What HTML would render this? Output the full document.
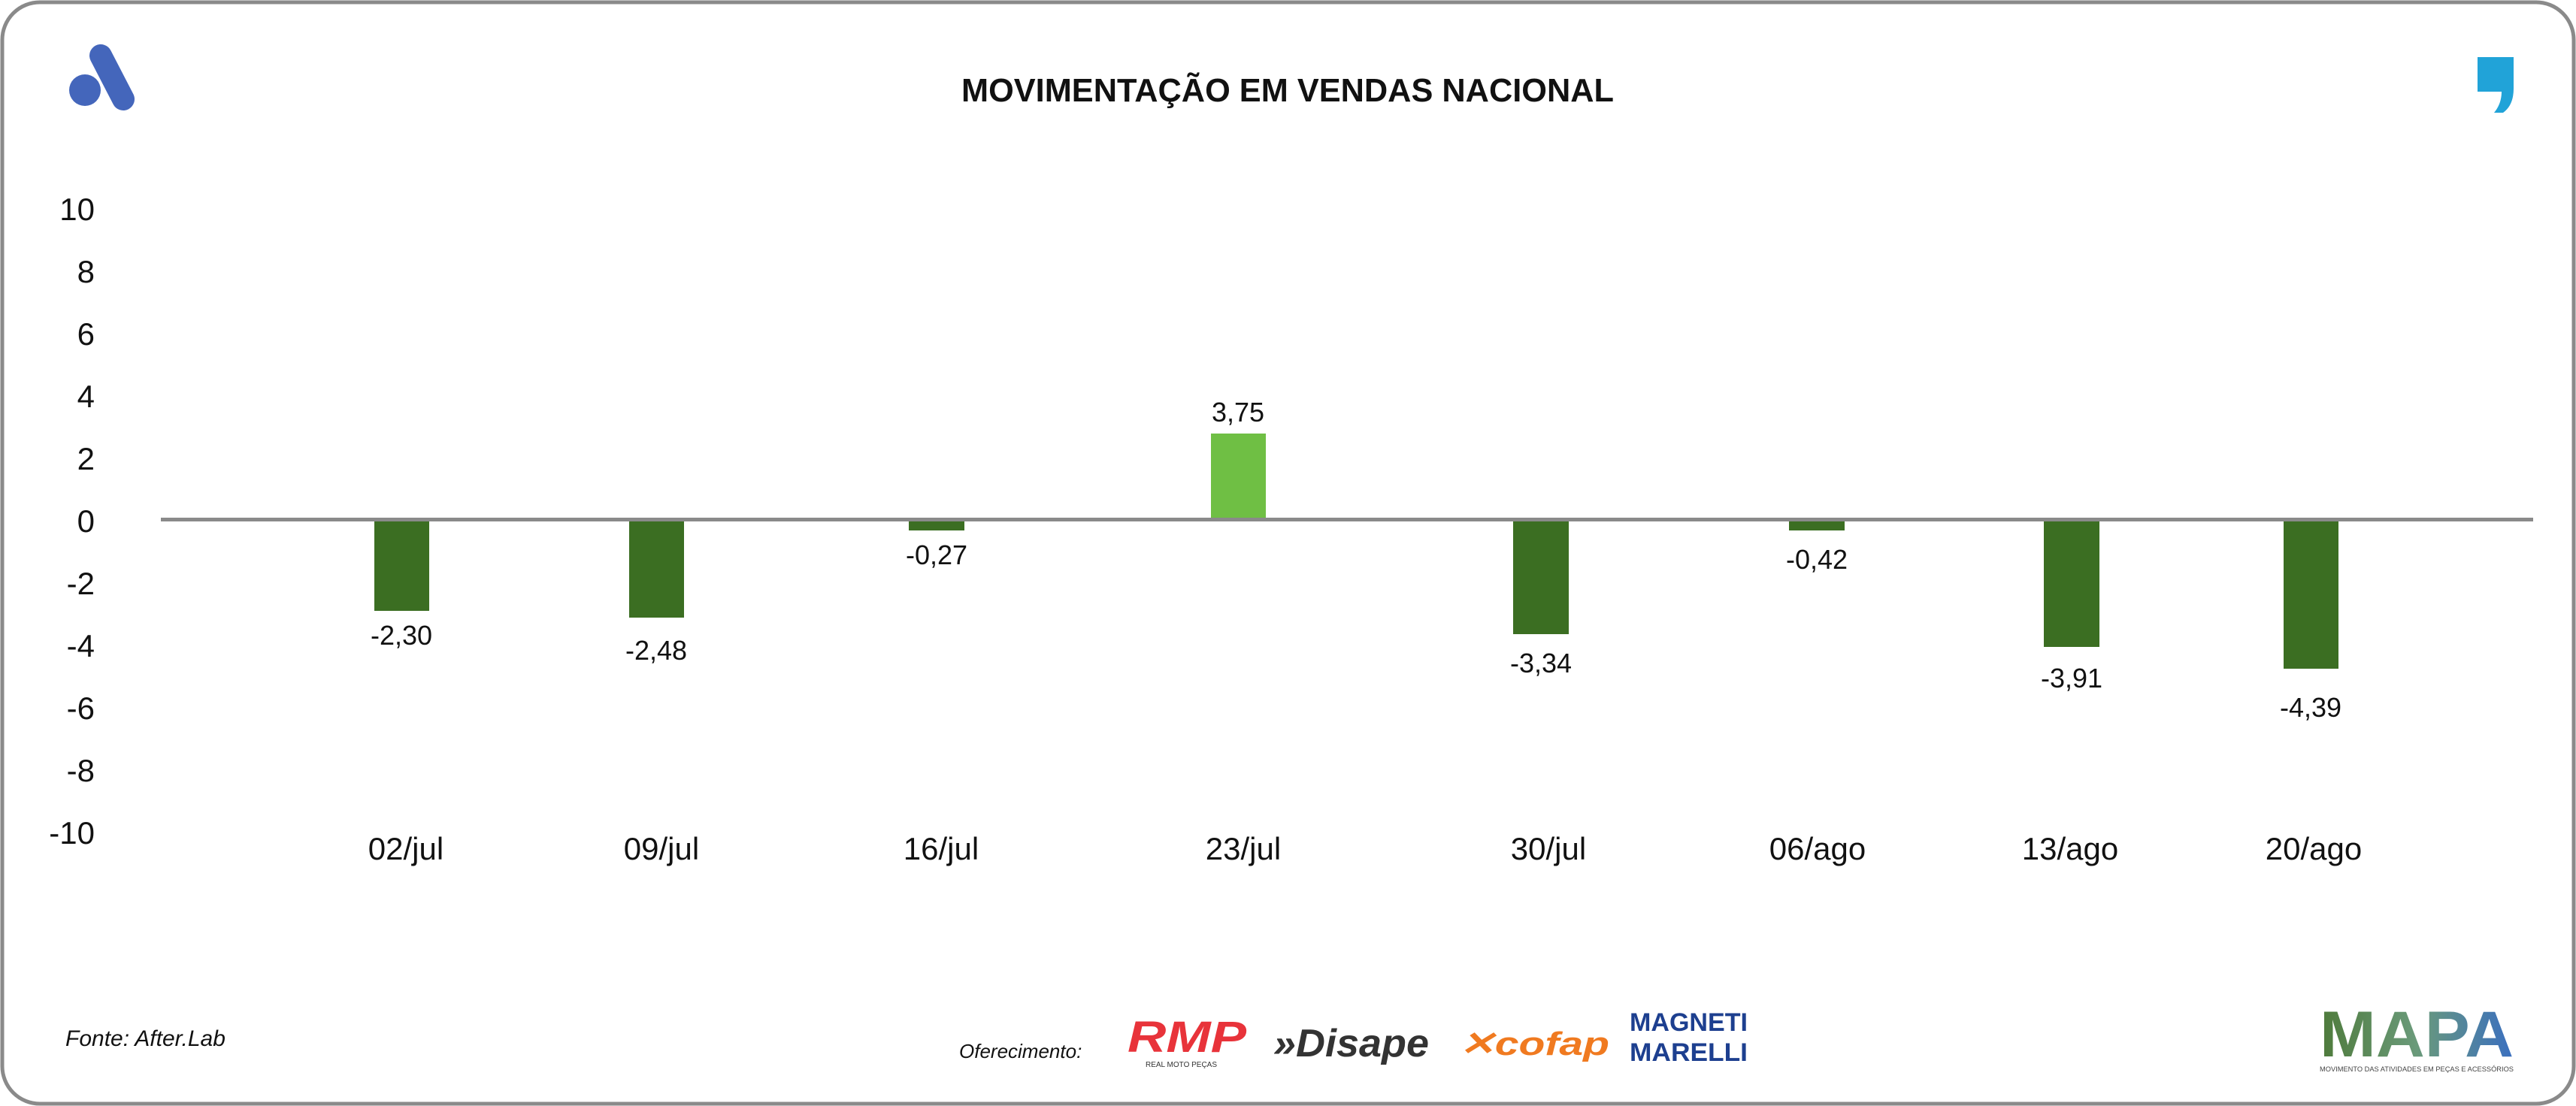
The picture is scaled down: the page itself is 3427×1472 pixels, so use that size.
<!DOCTYPE html>
<html><head><meta charset="utf-8"><style>
html,body{margin:0;padding:0;background:#fff;}
svg{display:block;}
text{font-family:"Liberation Sans",sans-serif;}
</style></head><body>
<svg width="3427" height="1472" viewBox="0 0 3427 1472" xmlns="http://www.w3.org/2000/svg">
<defs>
<linearGradient id="mg" x1="0" x2="1" y1="0" y2="0"><stop offset="0" stop-color="#4e7a3a"/><stop offset="0.5" stop-color="#6a9a7a"/><stop offset="1" stop-color="#3a6fc0"/></linearGradient>
</defs>
<rect x="3" y="3" width="3421" height="1466" rx="50" ry="50" fill="#fff" stroke="#8a8a8a" stroke-width="5"/>
<!-- left logo -->
<line x1="134" y1="74" x2="164" y2="132" stroke="#4466bb" stroke-width="30" stroke-linecap="round"/>
<circle cx="113" cy="120" r="21" fill="#4466bb"/>
<!-- right logo -->
<path d="M3296 76 L3344 76 L3344 118 Q3344 140 3330 150 L3318 150 Q3328 138 3328 122 L3296 122 Z" fill="#21a3d8"/>
<text x="1713" y="135" text-anchor="middle" font-size="44" font-weight="bold" fill="#111" textLength="868" lengthAdjust="spacingAndGlyphs">MOVIMENTAÇÃO EM VENDAS NACIONAL</text>
<!-- y axis labels -->
<g font-size="42" fill="#111" text-anchor="end">
<text x="126" y="293">10</text>
<text x="126" y="376">8</text>
<text x="126" y="459">6</text>
<text x="126" y="542">4</text>
<text x="126" y="625">2</text>
<text x="126" y="708">0</text>
<text x="126" y="791">-2</text>
<text x="126" y="874">-4</text>
<text x="126" y="957">-6</text>
<text x="126" y="1040">-8</text>
<text x="126" y="1123">-10</text>
</g>
<!-- bars -->
<g fill="#3b6e22">
<rect x="498" y="692" width="73" height="121"/>
<rect x="837" y="692" width="73" height="130"/>
<rect x="1209" y="692" width="74" height="14"/>
<rect x="2013" y="692" width="74" height="152"/>
<rect x="2380" y="692" width="74" height="14"/>
<rect x="2719" y="692" width="74" height="169"/>
<rect x="3038" y="692" width="73" height="198"/>
</g>
<rect x="1611" y="577" width="73" height="115" fill="#6fbf44"/>
<rect x="214" y="689" width="3156" height="5" fill="#8a8a8a"/>
<!-- value labels -->
<g font-size="36" fill="#111" text-anchor="middle">
<text x="534" y="858">-2,30</text>
<text x="873" y="878">-2,48</text>
<text x="1246" y="751">-0,27</text>
<text x="1647" y="561">3,75</text>
<text x="2050" y="895">-3,34</text>
<text x="2417" y="757">-0,42</text>
<text x="2756" y="915">-3,91</text>
<text x="3074" y="954">-4,39</text>
</g>
<!-- category labels -->
<g font-size="42" fill="#111" text-anchor="middle">
<text x="540" y="1144">02/jul</text>
<text x="880" y="1144">09/jul</text>
<text x="1252" y="1144">16/jul</text>
<text x="1654" y="1144">23/jul</text>
<text x="2060" y="1144">30/jul</text>
<text x="2418" y="1144">06/ago</text>
<text x="2754" y="1144">13/ago</text>
<text x="3078" y="1144">20/ago</text>
</g>
<!-- footer -->
<text x="87" y="1392" font-size="30" font-style="italic" fill="#111">Fonte: After.Lab</text>
<text x="1276" y="1408" font-size="26" font-style="italic" fill="#111">Oferecimento:</text>
<text x="1500" y="1400" font-size="58" font-weight="bold" font-style="italic" fill="#e8333a" textLength="158" lengthAdjust="spacingAndGlyphs">RMP</text>
<text x="1524" y="1420" font-size="10" fill="#333">REAL MOTO PEÇAS</text>
<text x="1694" y="1406" font-size="52" font-weight="bold" font-style="italic" fill="#333" textLength="207" lengthAdjust="spacingAndGlyphs">»Disape</text>
<text x="1941" y="1404" font-size="44" font-weight="bold" font-style="italic" fill="#f07a20" textLength="200" lengthAdjust="spacingAndGlyphs">✕cofap</text>
<text x="2168" y="1372" font-size="34" font-weight="bold" fill="#1d3f8f" textLength="157" lengthAdjust="spacingAndGlyphs">MAGNETI</text>
<text x="2168" y="1412" font-size="34" font-weight="bold" fill="#1d3f8f" textLength="157" lengthAdjust="spacingAndGlyphs">MARELLI</text>
<text x="3086" y="1406" font-size="86" font-weight="bold" fill="url(#mg)" textLength="258" lengthAdjust="spacingAndGlyphs">MAPA</text>
<text x="3086" y="1426" font-size="9" fill="#444" textLength="258" lengthAdjust="spacingAndGlyphs">MOVIMENTO DAS ATIVIDADES EM PEÇAS E ACESSÓRIOS</text>
</svg>
</body></html>
